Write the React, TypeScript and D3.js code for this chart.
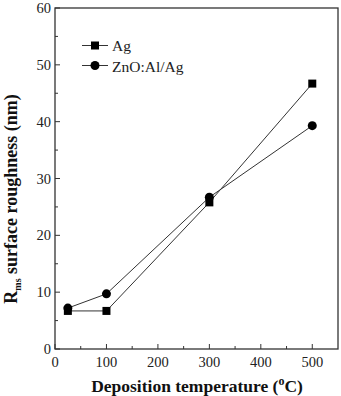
import React from "react";
import * as d3 from "d3";

const WIDTH = 341;
const HEIGHT = 396;
const M = { left: 55, top: 8, right: 3, bottom: 47 };

const temps = [25, 100, 300, 500];
const agValues = [6.7, 6.7, 25.8, 46.7];
const znoValues = [7.2, 9.7, 26.7, 39.3];
const xTicks = [0, 100, 200, 300, 400, 500];
const yTicks = [0, 10, 20, 30, 40, 50, 60];

const FONT = "'Liberation Serif', 'Times New Roman', serif";

export default function App() {
  const x = d3.scaleLinear().domain([0, 550]).range([M.left, WIDTH - M.right]);
  const y = d3.scaleLinear().domain([0, 60]).range([HEIGHT - M.bottom, M.top]);
  const line = d3.line<[number, number]>().x(d => x(d[0])).y(d => y(d[1]));
  const ag = temps.map((t, i) => [t, agValues[i]] as [number, number]);
  const zno = temps.map((t, i) => [t, znoValues[i]] as [number, number]);
  const x0 = x(0), y0 = y(0);
  const xMinor = d3.range(50, 550, 100);
  const yMinor = d3.range(5, 60, 10);

  return (
    <svg width={WIDTH} height={HEIGHT} style={{ position: "absolute", left: 0, top: 0, background: "#fff" }}
      fontFamily={FONT}>
      <rect x={M.left} y={M.top} width={WIDTH - M.right - M.left} height={y0 - M.top}
        fill="none" stroke="#333" strokeWidth={1.3} />
      {xTicks.map(t => (
        <g key={"x" + t}>
          <line x1={x(t)} x2={x(t)} y1={y0} y2={y0 - 5} stroke="#333" />
          <text x={x(t)} y={y0 + 18} fontSize={14.5} textAnchor="middle" fill="#222">{t}</text>
        </g>
      ))}
      {xMinor.map(t => (
        <line key={"xm" + t} x1={x(t)} x2={x(t)} y1={y0} y2={y0 - 3} stroke="#333" />
      ))}
      {yTicks.map(t => (
        <g key={"y" + t}>
          <line x1={x0} x2={x0 + 5} y1={y(t)} y2={y(t)} stroke="#333" />
          <text x={x0 - 4} y={y(t) + 5} fontSize={14.5} textAnchor="end" fill="#222">{t}</text>
        </g>
      ))}
      {yMinor.map(t => (
        <line key={"ym" + t} x1={x0} x2={x0 + 3} y1={y(t)} y2={y(t)} stroke="#333" />
      ))}

      <path d={line(ag) || ""} fill="none" stroke="#333" strokeWidth={1} />
      <path d={line(zno) || ""} fill="none" stroke="#333" strokeWidth={1} />
      {ag.map((d, i) => (
        <rect key={"a" + i} x={x(d[0]) - 4} y={y(d[1]) - 4} width={8} height={8} fill="#000" />
      ))}
      {zno.map((d, i) => (
        <circle key={"z" + i} cx={x(d[0])} cy={y(d[1])} r={4.5} fill="#000" />
      ))}

      <g>
        <line x1={82} x2={108} y1={45.5} y2={45.5} stroke="#333" />
        <rect x={91} y={41.5} width={8} height={8} fill="#000" />
        <text x={112} y={50.5} fontSize={15.5} fill="#222">Ag</text>
        <line x1={82} x2={108} y1={65.5} y2={65.5} stroke="#333" />
        <circle cx={95} cy={65.5} r={4.5} fill="#000" />
        <text x={112} y={71.5} fontSize={15.5} fill="#222">ZnO:Al/Ag</text>
      </g>

      <text x={197} y={392} fontSize={17.5} fontWeight="bold" textAnchor="middle" fill="#111">
        Deposition temperature (<tspan fontSize={12} dy={-7}>o</tspan><tspan dy={7}>C)</tspan>
      </text>
      <text transform="translate(17,199) rotate(-90)" fontSize={18} fontWeight="bold" textAnchor="middle" fill="#111">
        R<tspan fontSize={10} dy={4}>ms</tspan><tspan dy={-4}> surface roughness (nm)</tspan>
      </text>
    </svg>
  );
}
